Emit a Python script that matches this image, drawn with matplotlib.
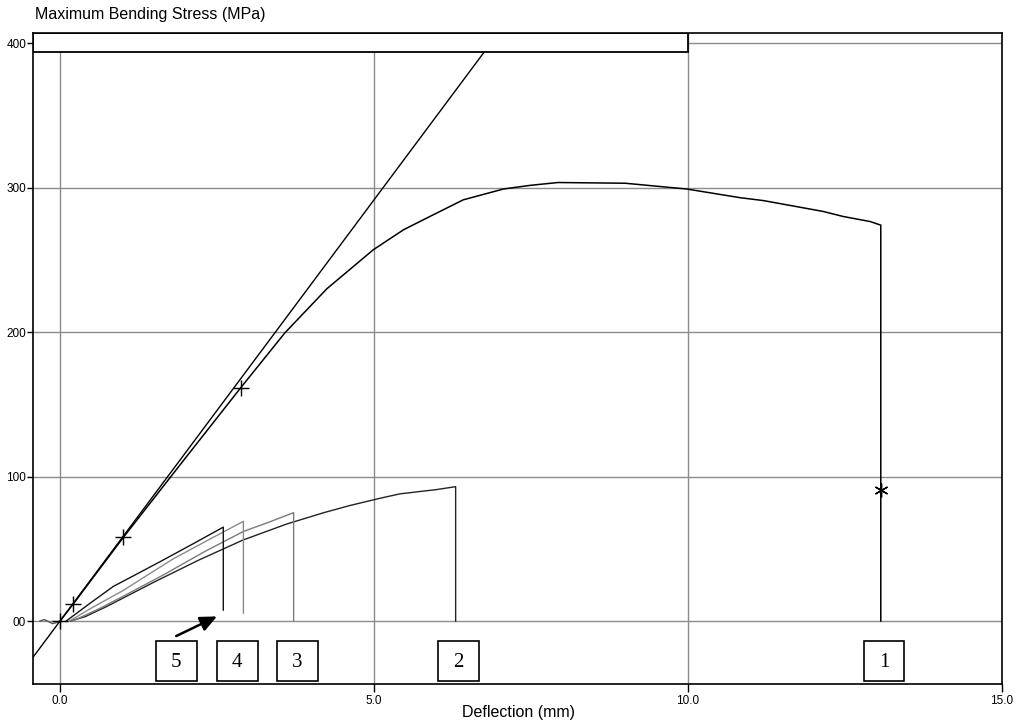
import matplotlib
matplotlib.use("Agg")
import matplotlib.pyplot as plt
from matplotlib.patches import Rectangle

# sample 1 (main curve)
s1_x = [0.0, 0.21, 1.01, 2.0, 2.88, 3.58, 4.25, 4.99, 5.47, 5.89, 6.42, 7.06, 7.48, 7.93,
        9.0, 9.98, 10.83, 11.2, 12.15, 12.47, 12.9, 13.07, 13.07]
s1_y = [0.0, 11.8, 58.0, 113.0, 161.6, 199.4, 230.0, 257.0, 270.8, 280.0, 291.5, 299.0, 301.5, 303.5,
        303.0, 299.0, 293.0, 291.0, 283.5, 280.0, 276.5, 274.0, 0.0]
s1_plus_x = [0.0, 0.21, 1.01, 2.88]
s1_plus_y = [0.0, 11.8, 58.0, 161.6]
s1_star = (13.07, 91.0)

# samples 2..5
s2_x = [0.16, 0.4, 0.74, 1.5, 2.2, 2.91, 3.6, 4.2, 4.62, 5.1, 5.41, 6.0, 6.3, 6.3]
s2_y = [0.0, 3.0, 10.0, 27.0, 42.0, 56.0, 67.0, 75.0, 80.0, 85.0, 88.0, 91.0, 93.0, 0.0]
s3_x = [0.2, 0.6, 1.0, 1.65, 2.3, 2.92, 3.3, 3.72, 3.72]
s3_y = [0.0, 8.0, 17.0, 32.0, 48.0, 62.0, 68.0, 75.0, 0.0]
s4_x = [0.15, 0.5, 1.0, 1.8, 2.4, 2.92, 2.92]
s4_y = [0.0, 9.0, 21.0, 43.0, 57.0, 69.0, 5.5]
s5_x = [0.1, 0.16, 0.5, 0.85, 1.2, 1.59, 2.1, 2.6, 2.6]
s5_y = [0.0, 2.0, 13.0, 24.0, 32.0, 41.0, 53.0, 65.0, 7.6]

# pre-load noise left of the origin
toe_x = [-0.32, -0.25, -0.2, -0.12, -0.05, 0.0]
toe_y = [0.0, 1.0, 0.0, -1.8, -1.0, 0.0]

tangent_slope = 58.3

labels = ["1", "2", "3", "4", "5"]
label_x = [13.12, 6.35, 3.78, 2.82, 1.85]

x_ticks = [0.0, 5.0, 10.0, 15.0]
x_ticklabels = ["0.0", "5.0", "10.0", "15.0"]
y_ticks = [0, 100, 200, 300, 400]
y_ticklabels = ["00", "100", "200", "300", "400"]

XMIN, XMAX = -0.43, 15.0
YMIN, YMAX = -43.6, 407.0

plt.rcParams['font.family'] = ['Liberation Sans', 'DejaVu Sans']

fig = plt.figure(figsize=(10.16, 7.23), dpi=100)
ax = fig.add_axes([0.0325, 0.0539, 0.9537, 0.9005])
ax.set_xlim(XMIN, XMAX)
ax.set_ylim(YMIN, YMAX)

# grid
for gx in x_ticks[:-1]:
    ax.axvline(gx, color="#8c8c8c", lw=1.0, zorder=1)
for gy in y_ticks:
    ax.axhline(gy, color="#8c8c8c", lw=1.0, zorder=1)

# curves
ax.plot(toe_x, toe_y, color="#555555", lw=1.0, zorder=3)
ax.axline((0, 0), slope=tangent_slope, color="black", lw=1.0, zorder=3)
ax.plot(s1_x, s1_y, color="black", lw=1.1, zorder=4)
ax.plot(s2_x, s2_y, color="#222222", lw=1.0, zorder=3)
ax.plot(s3_x, s3_y, color="#7a7a7a", lw=1.0, zorder=3)
ax.plot(s4_x, s4_y, color="#8a8a8a", lw=1.0, zorder=3)
ax.plot(s5_x, s5_y, color="#111111", lw=1.0, zorder=3)

ax.plot(s1_plus_x, s1_plus_y, ls="none", marker="+", ms=11, mew=1.0, color="black", zorder=5)
ax.plot([s1_star[0]], [s1_star[1]], ls="none", marker=(6, 2, 0), ms=10, mew=1.0, color="black", zorder=5)

# top box
ax.add_patch(Rectangle((XMIN, 394), 10.0 - XMIN, YMAX - 394, fc="white", ec="black", lw=1.3, zorder=6))

# specimen labels
bw, bh, bcy = 0.65, 27.9, -27.6
for lab, cx in zip(labels, label_x):
    ax.add_patch(Rectangle((cx - bw / 2, bcy - bh / 2), bw, bh, fc="white", ec="black", lw=1.2, zorder=6))
    ax.text(cx, bcy - 1.0, lab, ha="center", va="center", fontsize=15,
            family="Liberation Serif", zorder=7)

# arrow
ax.annotate("", xy=(2.5, 3.2), xytext=(1.85, -10.4),
            arrowprops=dict(arrowstyle="-|>,head_length=1.0,head_width=0.45",
                            color="black", lw=1.8, shrinkA=0, shrinkB=0), zorder=7)

# axes styling
for sp in ax.spines.values():
    sp.set_color("black")
    sp.set_linewidth(1.2)
    sp.set_zorder(8)

ax.set_xticks(x_ticks)
ax.set_xticklabels(x_ticklabels)
ax.set_yticks(y_ticks)
ax.set_yticklabels(y_ticklabels)
ax.tick_params(axis="x", length=6, width=1.0, pad=2, labelsize=8.5)
ax.tick_params(axis="y", length=4, width=1.0, pad=1, labelsize=8.5)

fig.text(35 / 1016, 1 - 14 / 723, "Maximum Bending Stress (MPa)", fontsize=11.5, ha="left", va="center")
fig.text(518 / 1016, 1 - 713 / 723, "Deflection (mm)", fontsize=11.5, ha="center", va="center")

fig.savefig("out.png", dpi=100)
